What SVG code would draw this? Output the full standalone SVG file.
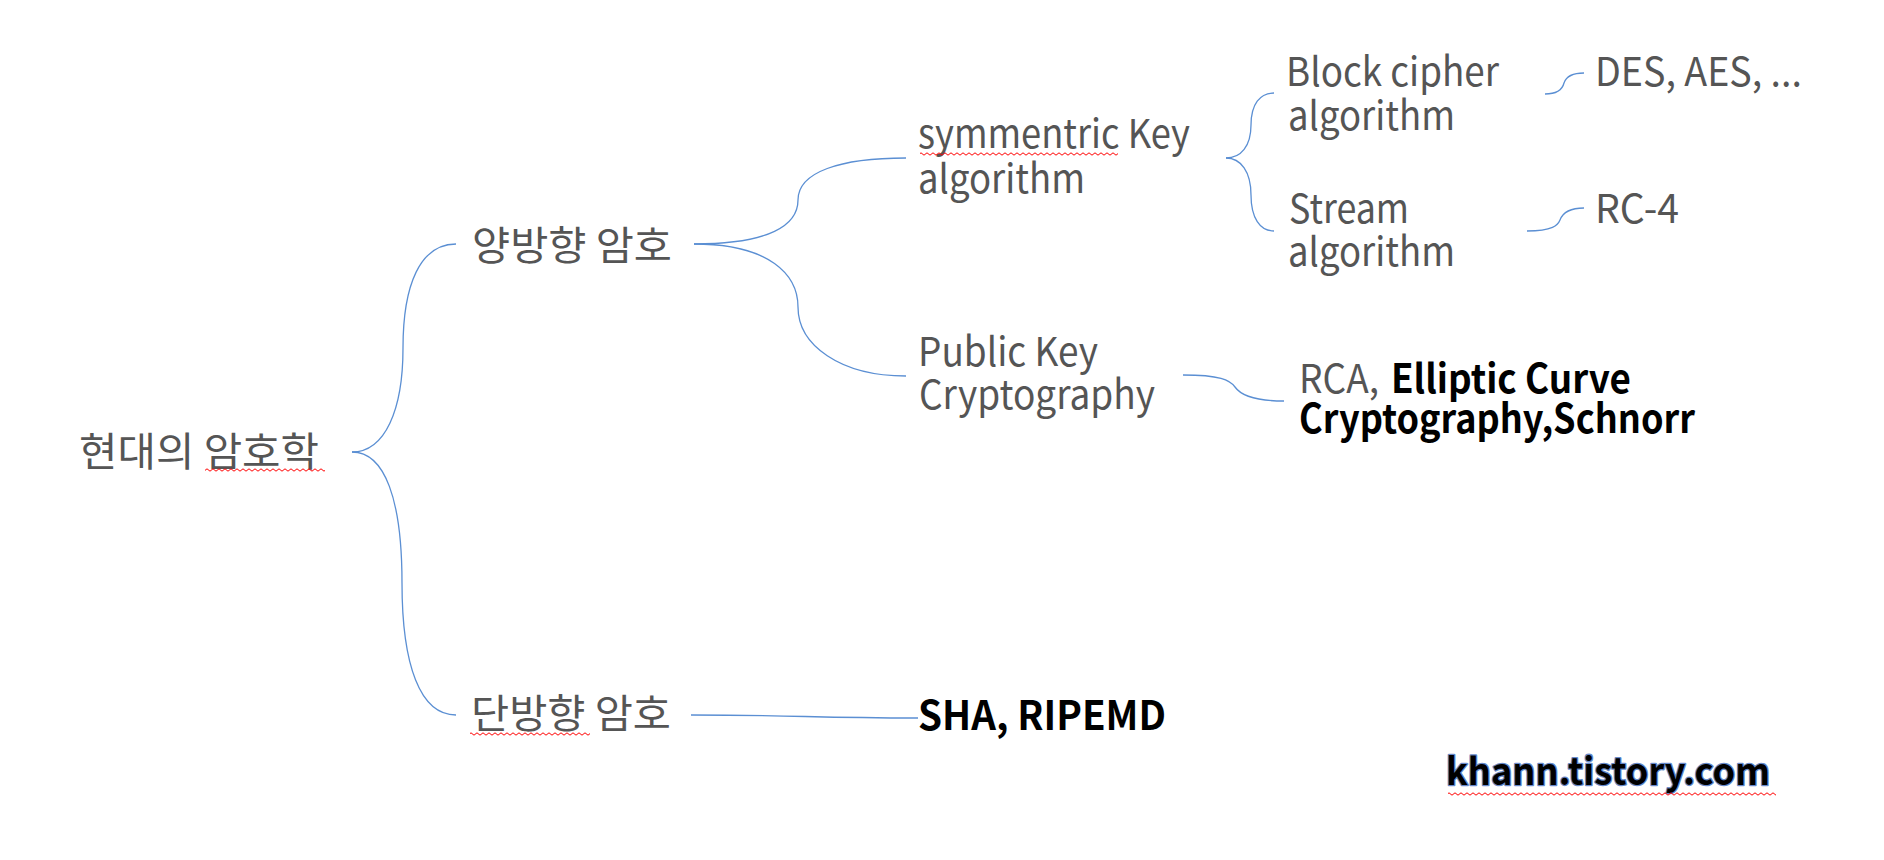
<svg xmlns="http://www.w3.org/2000/svg" width="1884" height="860" viewBox="0 0 1884 860">
<defs>
<style>
.t{font-family:"Noto Sans CJK KR","Noto Sans",sans-serif;font-size:40px;fill:#555555}
.b{font-weight:bold;fill:#000000}
.c{fill:none;stroke:#5b8fd3;stroke-width:1.3}
.sq{fill:url(#squig)}
.logo{font-family:"Noto Sans CJK KR","Noto Sans",sans-serif;font-size:38px;font-weight:bold;fill:#000000;stroke:#4a74c0;stroke-width:2.6;stroke-opacity:0.85;paint-order:stroke;stroke-linejoin:round}
</style>
<pattern id="squig" x="0" y="0" width="6" height="4" patternUnits="userSpaceOnUse">
<path d="M0,3.2 L3,0.8 L6,3.2" fill="none" stroke="#ff0000" stroke-width="1"/>
</pattern>
</defs>
<rect width="1884" height="860" fill="#ffffff"/>
<g id="connectors">
<path class="c" d="M352,452 C385,452 403,410 403,348 C403,285 420,244 456,244"/>
<path class="c" d="M352,452 C385,452 402,500 402,583 C402,665 420,715 456,715"/>
<path class="c" d="M694,244 C770,244 798,225 798,200 C798,172 840,158 906,158"/>
<path class="c" d="M694,244 C770,244 798,275 798,307 C798,345 840,376 906,376"/>
<path class="c" d="M1226,158 C1241,158 1251,146 1251,125 C1251,104 1260,93 1274,93"/>
<path class="c" d="M1226,158 C1241,158 1251,172 1251,195 C1251,218 1260,231 1274,231"/>
<path class="c" d="M1545,94 C1560,94 1563,87 1564,83 C1566,77 1572,73 1584,73"/>
<path class="c" d="M1527,231 C1553,231 1558,225 1560,220 C1563,212 1570,208 1584,208"/>
<path class="c" d="M1183,375 C1220,375 1230,380 1235,387 C1242,397 1260,401 1284,401"/>
<path class="c" d="M691,715 C800,715 810,718 918,718"/>
</g>
<g id="root">
<text class="t" x="79" y="466" textLength="240" lengthAdjust="spacingAndGlyphs">현대의 암호학</text>
<rect class="sq" x="205" y="468" width="120" height="4"/>
</g>
<g id="bidirectional">
<text class="t" x="472" y="260" textLength="200" lengthAdjust="spacingAndGlyphs">양방향 암호</text>
</g>
<g id="oneway">
<text class="t" x="471" y="728" textLength="200" lengthAdjust="spacingAndGlyphs">단방향 암호</text>
<rect class="sq" x="470" y="732" width="120" height="4"/>
</g>
<g id="symmetric">
<text class="t" x="918" y="148" textLength="272" lengthAdjust="spacingAndGlyphs">symmentric Key</text>
<text class="t" x="918" y="193" textLength="167" lengthAdjust="spacingAndGlyphs">algorithm</text>
<rect class="sq" x="920" y="152" width="198" height="4"/>
</g>
<g id="publickey">
<text class="t" x="918" y="366" textLength="180" lengthAdjust="spacingAndGlyphs">Public Key</text>
<text class="t" x="919" y="409" textLength="236" lengthAdjust="spacingAndGlyphs">Cryptography</text>
</g>
<g id="blockcipher">
<text class="t" x="1286" y="86" textLength="213" lengthAdjust="spacingAndGlyphs">Block cipher</text>
<text class="t" x="1288" y="130" textLength="167" lengthAdjust="spacingAndGlyphs">algorithm</text>
</g>
<g id="stream">
<text class="t" x="1289" y="223" textLength="120" lengthAdjust="spacingAndGlyphs">Stream</text>
<text class="t" x="1288" y="266" textLength="167" lengthAdjust="spacingAndGlyphs">algorithm</text>
</g>
<g id="des">
<text class="t" x="1595" y="86" textLength="207" lengthAdjust="spacingAndGlyphs">DES, AES, ...</text>
</g>
<g id="rc4">
<text class="t" x="1595" y="223" textLength="84" lengthAdjust="spacingAndGlyphs">RC-4</text>
</g>
<g id="pkexamples">
<text class="t" x="1299" y="393" textLength="80" lengthAdjust="spacingAndGlyphs">RCA,</text>
<text class="t b" x="1391" y="393" textLength="240" lengthAdjust="spacingAndGlyphs">Elliptic Curve</text>
<text class="t b" x="1299" y="433" textLength="396" lengthAdjust="spacingAndGlyphs">Cryptography,Schnorr</text>
</g>
<g id="hash">
<text class="t b" x="918" y="730" textLength="248" lengthAdjust="spacingAndGlyphs">SHA, RIPEMD</text>
</g>
<g id="watermark">
<text class="logo" x="1446" y="785" textLength="324" lengthAdjust="spacingAndGlyphs">khann.tistory.com</text>
<rect class="sq" x="1448" y="792" width="328" height="4"/>
</g>
</svg>
